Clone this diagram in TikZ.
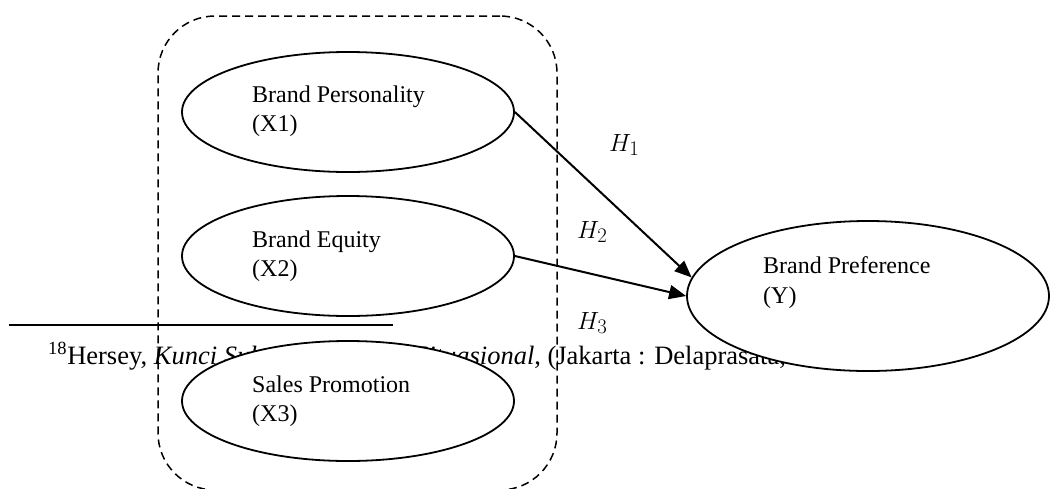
\documentclass[tikz,border=0pt]{standalone}
\usepackage{fontspec}
\setmainfont{Liberation Serif}
\usetikzlibrary{shapes.geometric,arrows.meta}
\begin{document}
\begin{tikzpicture}[x=1pt,y=-1pt,
 var/.style={ellipse,draw,line width=1.8pt,fill=white,minimum width=332pt,minimum height=120pt,inner sep=0pt},
 vtext/.style={anchor=base west,align=left,font=\fontsize{24}{29.5}\selectfont,inner sep=0pt},
 arr/.style={-{Triangle[length=17pt,width=14pt]},line width=2pt},
 hlab/.style={anchor=base west,inner sep=0pt,font=\fontsize{32}{38}\selectfont},
 groupbox/.style={draw,dash pattern=on 8pt off 5pt,line width=1.5pt,rounded corners=57pt,inner sep=0pt},
 fnote/.style={anchor=base west,inner sep=0pt,font=\fontsize{26.5}{32}\selectfont}]
\useasboundingbox (0,0) rectangle (1050,488);
\clip (0,0) rectangle (1050,488);
% footnote
\coordinate (r1) at (9,325);
\coordinate (r2) at (393,325);
\draw[line width=2pt] (r1) -- (r2);
\node[fnote] (fn) at (48,364) {\textsuperscript{18}Hersey, \textit{Kunci Sukses Pemimpin Situasional}, (Jakarta : Delaprasata, 1994)};
% group box
\node[groupbox,minimum width=399pt,minimum height=474pt] (grp) at (357.5,253) {};
% variables
\node[var] (x1) at (348,112) {};
\node[var] (x2) at (348,256) {};
\node[var] (x3) at (348,401) {};
\node[var,minimum width=362pt,minimum height=150pt] (y) at (868,296) {};
\node[vtext] (t1) at (252,131.5) {Brand Personality\\(X1)};
\node[vtext] (t2) at (252,276.5) {Brand Equity\\(X2)};
\node[vtext] (t3) at (252,421.5) {Sales Promotion\\(X3)};
\node[vtext] (ty) at (763,303) {Brand Preference\\(Y)};
% arrows
\draw[arr] (x1.east) -- (y.174);
\draw[arr] (x2.east) -- (y.west);
% labels
\node[hlab] (h1) at (609,151) {$H_1$};
\begin{scope}
\clip (560,180) rectangle (607,345);
\node[hlab] (h2) at (577,238) {$H_2$};
\node[hlab] (h3) at (577,329) {$H_3$};
\end{scope}
\end{tikzpicture}
\end{document}
